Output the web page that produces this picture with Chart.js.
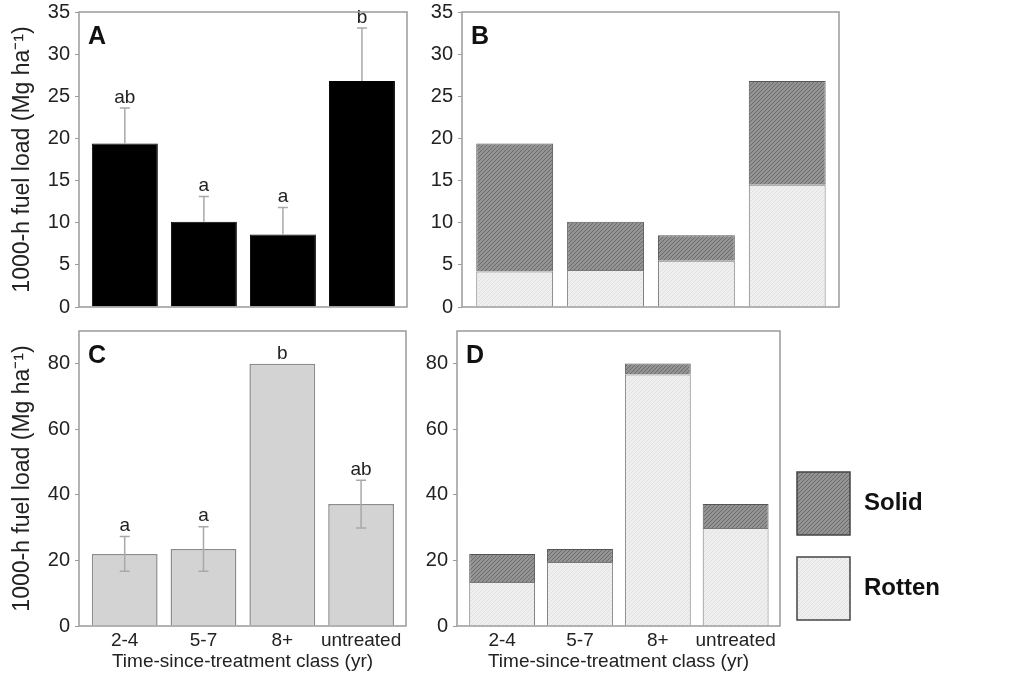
<!DOCTYPE html>
<html>
<head>
<meta charset="utf-8">
<script src="https://cdn.jsdelivr.net/npm/chart.js@4.4.1/dist/chart.umd.min.js"></script>
<style>
  html, body { margin: 0; padding: 0; background: #fff; }
  #wrap { position: relative; width: 1024px; height: 673px; overflow: hidden; }
  canvas { position: absolute; }
</style>
</head>
<body>
<div id="wrap">
  <canvas id="cA" width="420" height="320" style="left:0;top:0"></canvas>
  <canvas id="cB" width="430" height="320" style="left:420px;top:0"></canvas>
  <canvas id="cC" width="420" height="353" style="left:0;top:320px"></canvas>
  <canvas id="cD" width="604" height="353" style="left:420px;top:320px"></canvas>
</div>
<script>
// values
const categories = ['2-4', '5-7', '8+', 'untreated'];
const totalA = [19.4, 10.1, 8.6, 26.8];
const errA = [4.2, 3.0, 3.2, 6.3];
const lettersA = ['ab', 'a', 'a', 'b'];
const rottenB = [4.2, 4.4, 5.5, 14.5];
const solidB = [15.2, 5.7, 3.0, 12.3];
const totalC = [22.0, 23.5, 80.0, 37.2];
const errC = [5.3, 6.8, 0, 7.3];
const lettersC = ['a', 'a', 'b', 'ab'];
const rottenD = [13.4, 19.5, 76.7, 29.9];
const solidD = [8.6, 4.0, 3.4, 7.3];
const ticksTop = [0, 5, 10, 15, 20, 25, 30, 35];
const ticksBottom = [0, 20, 40, 60, 80];

const FONT = '"Liberation Sans", Arial, sans-serif';
const INK = '#222';
const yTitle = '1000-h fuel load (Mg ha\u207B\u00B9)';
const xTitle = 'Time-since-treatment class (yr)';

function hatch(base, line) {
  const c = document.createElement('canvas');
  c.width = 4; c.height = 4;
  const g = c.getContext('2d');
  g.fillStyle = base;
  g.fillRect(0, 0, 4, 4);
  g.strokeStyle = line;
  g.lineWidth = 1;
  g.beginPath();
  g.moveTo(0, 4); g.lineTo(4, 0);
  g.moveTo(-1, 1); g.lineTo(1, -1);
  g.moveTo(3, 5); g.lineTo(5, 3);
  g.stroke();
  return g.createPattern(c, 'repeat');
}
const solidFill = hatch('#939393', '#6c6c6c');
const rottenFill = hatch('#efefef', '#e1e1e1');

const toXY = arr => arr.map((v, i) => ({ x: i, y: v }));

// frame, panel letter, error bars, letters over bars, legend
const decor = {
  id: 'decor',
  afterDatasetsDraw(chart, args, o) {
    const ctx = chart.ctx;
    const a = chart.chartArea;
    const y = chart.scales.y;
    ctx.save();
    if (o.err) {
      const bars = chart.getDatasetMeta(0).data;
      ctx.strokeStyle = '#a8a8a8';
      ctx.lineWidth = 1.5;
      bars.forEach((b, i) => {
        const v = o.values[i], e = o.err[i];
        if (!e) return;
        const top = y.getPixelForValue(v + e);
        const bot = o.both ? y.getPixelForValue(v - e) : b.y;
        ctx.beginPath();
        ctx.moveTo(b.x, bot); ctx.lineTo(b.x, top);
        ctx.moveTo(b.x - 5, top); ctx.lineTo(b.x + 5, top);
        if (o.both) { ctx.moveTo(b.x - 5, bot); ctx.lineTo(b.x + 5, bot); }
        ctx.stroke();
      });
      ctx.fillStyle = INK;
      ctx.font = '19px ' + FONT;
      ctx.textAlign = 'center';
      ctx.textBaseline = 'bottom';
      bars.forEach((b, i) => {
        const top = y.getPixelForValue(o.values[i] + o.err[i]);
        ctx.fillText(o.letters[i], b.x, top - 1);
      });
    }
    ctx.strokeStyle = '#9a9a9a';
    ctx.lineWidth = 1.5;
    ctx.strokeRect(a.left, a.top, a.right - a.left, a.bottom - a.top);
    ctx.fillStyle = '#111';
    ctx.font = 'bold 25px ' + FONT;
    ctx.textAlign = 'left';
    ctx.textBaseline = 'middle';
    ctx.fillText(o.letter, a.left + 9, a.top + 25);
    if (o.legend) {
      const items = [chart.data.datasets[1], chart.data.datasets[0]];
      const bx = a.right + 17;
      items.forEach((ds, k) => {
        const by = a.top + 141 + k * 85;
        ctx.fillStyle = ds.backgroundColor;
        ctx.fillRect(bx, by, 53, 63);
        ctx.strokeStyle = '#444';
        ctx.lineWidth = 1.5;
        ctx.strokeRect(bx, by, 53, 63);
        ctx.fillStyle = '#111';
        ctx.font = 'bold 24px ' + FONT;
        ctx.fillText(ds.label, bx + 67, by + 31);
      });
    }
    ctx.restore();
  }
};

function panel(id, p) {
  const yOpts = {
    min: 0, max: p.yMax, stacked: !!p.stacked,
    afterFit: s => { s.width = p.axisW; },
    afterBuildTicks: s => { s.ticks = p.yTicks.map(v => ({ value: v })); },
    grid: { drawOnChartArea: false, drawTicks: true, tickLength: 4, color: '#9a9a9a' },
    border: { display: false },
    ticks: { color: INK, font: { family: FONT, size: 20, lineHeight: 0.5 }, padding: 5 },
    title: {
      display: !!p.yTitle, text: yTitle, color: INK,
      font: { family: FONT, size: 23 }, padding: { top: 9, bottom: 0 }
    }
  };
  const xOpts = {
    type: 'linear', min: -0.58, max: 3.57, offset: false, stacked: !!p.stacked,
    display: !!p.showX,
    afterFit: s => { if (p.showX) s.height = 47; },
    afterBuildTicks: s => { s.ticks = categories.map((c, i) => ({ value: i })); },
    grid: { display: false },
    border: { display: false },
    ticks: {
      color: INK, font: { family: FONT, size: 19, lineHeight: 1 }, padding: -3, maxRotation: 0,
      autoSkip: false, callback: v => categories[v]
    },
    title: {
      display: true, text: xTitle, color: INK,
      font: { family: FONT, size: 19 }, padding: { top: 0, bottom: 0 }
    }
  };
  return new Chart(document.getElementById(id), {
    type: 'bar',
    data: { datasets: p.datasets },
    options: {
      responsive: false,
      animation: false,
      layout: { padding: p.pad },
      datasets: { bar: { barPercentage: p.barPct, categoryPercentage: 1 } },
      scales: { x: xOpts, y: yOpts },
      plugins: {
        legend: { display: false },
        tooltip: { enabled: false },
        decor: p.decor
      }
    },
    plugins: [decor]
  });
}

panel('cA', {
  axisW: 79, pad: { left: 0, top: 12, right: 13, bottom: 13 },
  yMax: 35, yTicks: ticksTop, yTitle: true, barPct: 0.835,
  datasets: [{ data: toXY(totalA), backgroundColor: '#000', borderColor: '#000', borderWidth: 1 }],
  decor: { letter: 'A', values: totalA, err: errA, letters: lettersA, both: false }
});

panel('cB', {
  axisW: 42, pad: { left: 0, top: 12, right: 11, bottom: 13 },
  yMax: 35, yTicks: ticksTop, stacked: true, barPct: 0.846,
  datasets: [
    { label: 'Rotten', data: toXY(rottenB), backgroundColor: rottenFill, borderColor: '#777', borderWidth: 1 },
    { label: 'Solid', data: toXY(solidB), backgroundColor: solidFill, borderColor: '#555', borderWidth: 1 }
  ],
  decor: { letter: 'B' }
});

panel('cC', {
  axisW: 79, pad: { left: 0, top: 11, right: 14, bottom: 0 },
  yMax: 90, yTicks: ticksBottom, yTitle: true, showX: true, barPct: 0.835,
  datasets: [{ data: toXY(totalC), backgroundColor: '#d3d3d3', borderColor: '#8c8c8c', borderWidth: 1.5 }],
  decor: { letter: 'C', values: totalC, err: errC, letters: lettersC, both: true }
});

panel('cD', {
  axisW: 37, pad: { left: 0, top: 11, right: 244, bottom: 0 },
  yMax: 90, yTicks: ticksBottom, stacked: true, showX: true, barPct: 0.846,
  datasets: [
    { label: 'Rotten', data: toXY(rottenD), backgroundColor: rottenFill, borderColor: '#777', borderWidth: 1 },
    { label: 'Solid', data: toXY(solidD), backgroundColor: solidFill, borderColor: '#555', borderWidth: 1 }
  ],
  decor: { letter: 'D', legend: true }
});
</script>
</body>
</html>
